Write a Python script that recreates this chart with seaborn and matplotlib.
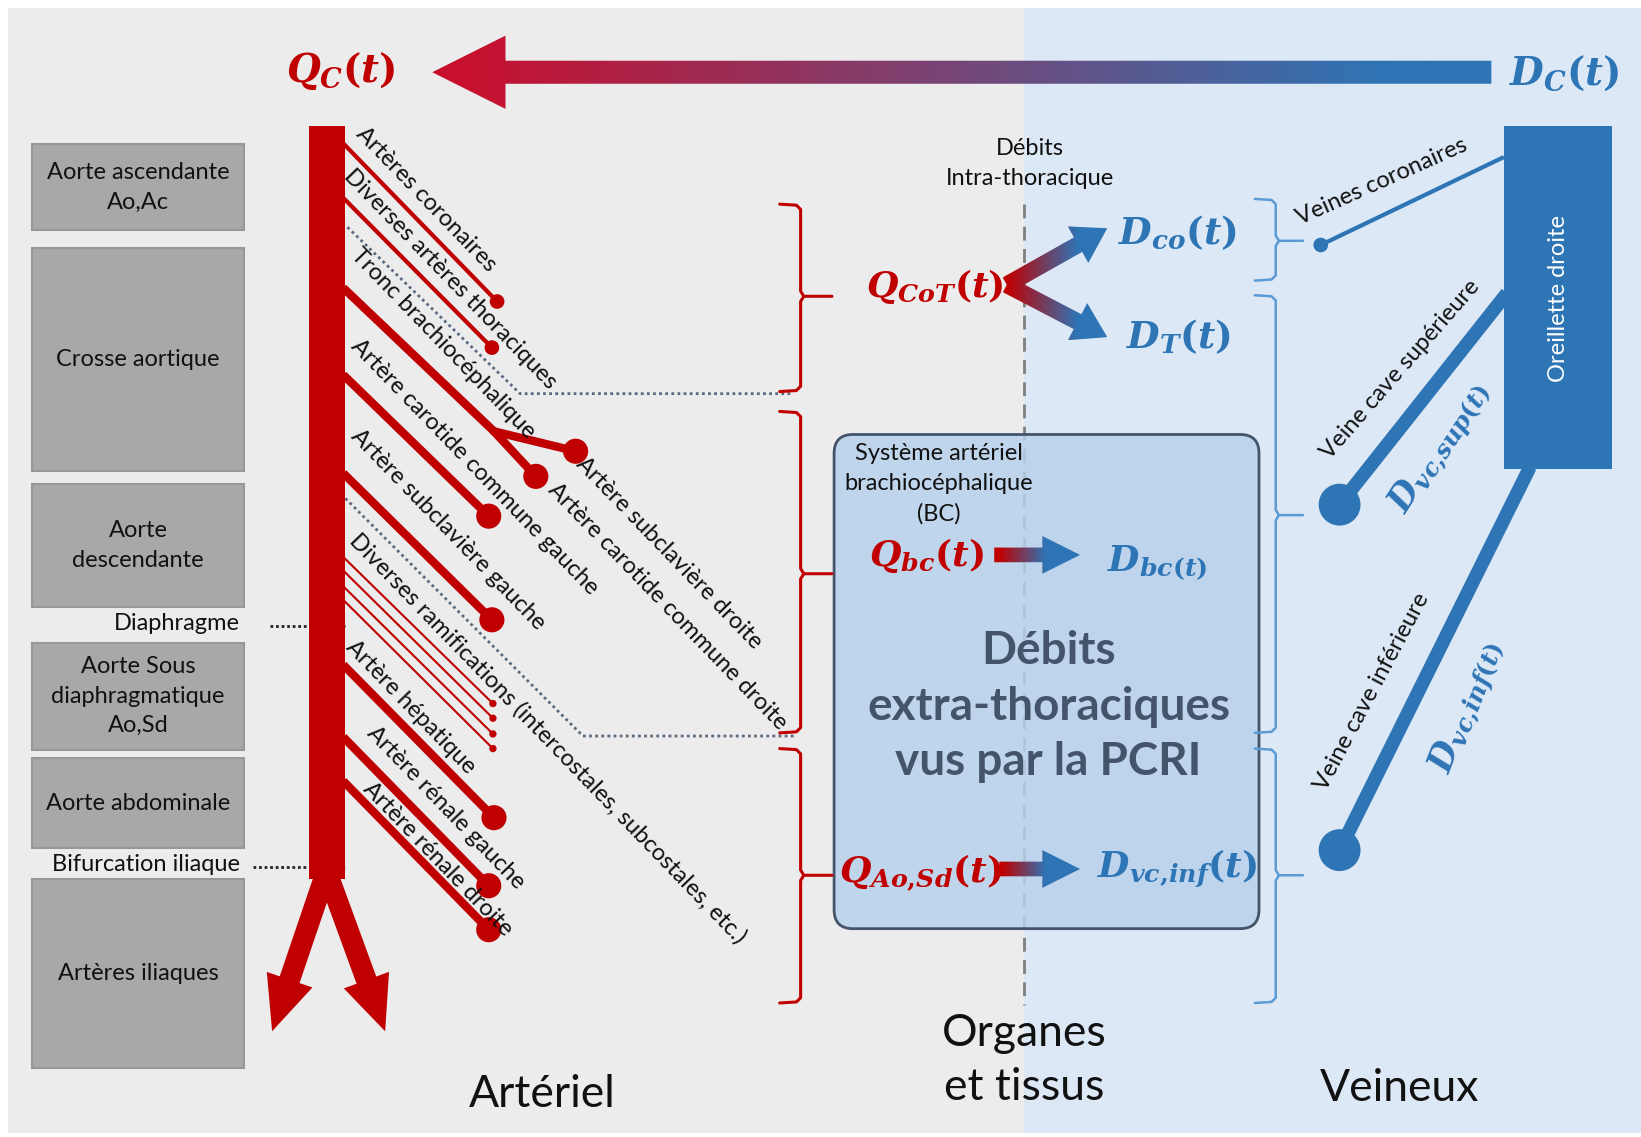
import numpy as np
import matplotlib
matplotlib.use('Agg')
import matplotlib.pyplot as plt
import seaborn as sns
from matplotlib.patches import Rectangle, Polygon, FancyBboxPatch, Circle
from matplotlib.colors import LinearSegmentedColormap

sns.set_theme(style='white')
plt.rcParams['font.family'] = ['Lato', 'DejaVu Sans']
plt.rcParams['mathtext.fontset'] = 'custom'
plt.rcParams['mathtext.rm'] = 'DejaVu Serif:bold'
plt.rcParams['mathtext.it'] = 'DejaVu Serif:italic:bold'
plt.rcParams['mathtext.bf'] = 'DejaVu Serif:bold'

RED = '#c00000'
BLUE = '#2e75b6'
LBLUE = '#5b9bd5'
SLATE = '#44546a'

# --- data -------------------------------------------------------------
# aortic segments (left boxes)
segments = ['Aorte ascendante\nAo,Ac', 'Crosse aortique', 'Aorte\ndescendante',
            'Aorte Sous\ndiaphragmatique\nAo,Sd', 'Aorte abdominale', 'Artères iliaques']
segment_top = [138, 237, 462, 614, 724, 840]
segment_bottom = [220, 450, 580, 716, 810, 1020]
landmarks = ['Diaphragme', 'Bifurcation iliaque']
landmark_y = [598, 828]

# arterial branches leaving the aorta
branches = ['Artères coronaires', 'Diverses artères thoraciques', 'Tronc brachiocéphalique',
            'Artère carotide commune gauche', 'Artère subclavière gauche',
            'Artère hépatique', 'Artère rénale gauche', 'Artère rénale droite']
branch_y0 = [137, 189, 275, 358, 452, 635, 704, 746]
branch_x1 = [475, 470, 472, 467, 470, 472, 467, 467]
branch_y1 = [288, 332, 412, 493, 592, 781, 846, 888]
branch_lw = [4, 4, 8, 8, 8, 8, 8, 8]
branch_dot = [7, 7, 0, 12, 12, 12, 12, 12]
branch_lab_x = [351, 339, 346, 346, 346, 341, 361, 358]
branch_lab_y = [118, 158, 233, 320, 406, 608, 690, 743]

# brachiocephalic trunk sub-branches
sub_branches = ['Artère subclavière droite', 'Artère carotide commune droite']
sub_x1 = [550, 512]
sub_y1 = [431, 455]
sub_lab_x = [561, 534]
sub_lab_y = [433, 458]

# small intercostal branches
ramif_label = 'Diverses ramifications (intercostales, subcostales, etc.)'
ramif_y0 = [532, 545, 560, 573]
ramif_y1 = [672, 686, 701, 715]

# dotted separators (thoracic / extra-thoracic)
sep1_x = [332, 497, 757]
sep1_y = [217, 376, 376]
sep2_x = [330, 557, 760]
sep2_y = [476, 703, 703]

# brackets: top, middle, bottom
red_br = [(195, 283, 374), (393, 548, 700), (715, 836, 958)]
blue_br = [(190, 230, 268), (282, 492, 700), (715, 836, 958)]

# venous side
veins = ['Veines coronaires', 'Veine cave supérieure', 'Veine cave inférieure']
vein_x0 = [1437, 1440, 1462]
vein_y0 = [150, 280, 446]
vein_x1 = [1262, 1280, 1280]
vein_y1 = [234, 482, 812]
vein_lw = [4, 13, 13]
vein_dot = [7, 20, 20]
vein_rot = [24, 49, 62]
vein_lab_x = [1244, 1274, 1270]
vein_lab_y = [218, 442, 758]

# --- figure -----------------------------------------------------------
W, H = 1568, 1086
fig = plt.figure(figsize=(16.41, 11.37), dpi=100)
ax = fig.add_axes([0, 0, 1, 1])
fig.patch.set_facecolor('white')

PX = 0.7535  # display px -> points
TXT = '#111111'


def arrow_verts(p0, p1, w, hw, hl):
    p0, p1 = np.array(p0, float), np.array(p1, float)
    d = p1 - p0
    u = d / np.hypot(*d)
    n = np.array([-u[1], u[0]])
    b = p1 - u * hl
    return [p0 + n * w, b + n * w, b + n * hw, p1, b - n * hw, b - n * w, p0 - n * w]


def grad_arrow(verts, c_from, c_to, x_from, x_to, z=5):
    poly = Polygon(verts, closed=True, fc='none', ec='none', zorder=z)
    ax.add_patch(poly)
    xs = np.array(verts)[:, 0]
    ys = np.array(verts)[:, 1]
    xx = np.linspace(xs.min(), xs.max(), 400)
    t = np.clip((xx - x_from) / (x_to - x_from), 0, 1)
    cmap = LinearSegmentedColormap.from_list('g', [c_from, c_to])
    im = ax.imshow(t[None, :], cmap=cmap, vmin=0, vmax=1, aspect='auto',
                   extent=(xs.min(), xs.max(), ys.max(), ys.min()),
                   interpolation='bilinear', zorder=z)
    im.set_clip_path(poly)


# backgrounds
ax.add_patch(Rectangle((8, 8), 970, 1074, fc='#ececec', ec='none', zorder=0))
ax.add_patch(Rectangle((978, 8), 590, 1074, fc='#dce8f5', ec='none', zorder=0))

# left segment boxes
for name, t, b in zip(segments, segment_top, segment_bottom):
    ax.add_patch(Rectangle((31, t), 202, b - t, fc='#aaa7a7', ec='#999696', lw=1.5, zorder=2))
    ax.text(132, (t + b) / 2, name, ha='center', va='center', fontsize=17,
            color=TXT, linespacing=1.5, zorder=3)
for name, y in zip(landmarks, landmark_y):
    ax.text(229, y - 2, name, ha='right', va='center', fontsize=17, color=TXT, zorder=3)
    ax.plot([242 if 'Bif' in name else 258, 330], [y, y], color='#222222', lw=2, ls=(0, (1, 1)), zorder=3)

# aorta trunk and iliac arrows
ax.add_patch(Rectangle((295, 120), 35, 720, fc=RED, ec='none', zorder=4))
for tip in [(260, 985), (368, 985)]:
    ax.add_patch(Polygon(arrow_verts((312, 832), tip, 10, 23, 52), closed=True, fc=RED, ec='none', zorder=4))

# branches
for name, y0, x1, y1, lw, r, lx, ly in zip(branches, branch_y0, branch_x1, branch_y1,
                                             branch_lw, branch_dot, branch_lab_x, branch_lab_y):
    ax.plot([328, x1], [y0, y1], color=RED, lw=lw * PX, solid_capstyle='butt', zorder=4)
    if r:
        ax.add_patch(Circle((x1, y1), r, fc=RED, ec='none', zorder=4))
    ax.text(lx, ly, name, rotation=-46, rotation_mode='anchor', ha='left', va='top',
            fontsize=17, color=TXT, zorder=6)

trunk_end = (branch_x1[2], branch_y1[2])
for name, x1, y1, lx, ly in zip(sub_branches, sub_x1, sub_y1, sub_lab_x, sub_lab_y):
    ax.plot([trunk_end[0], x1], [trunk_end[1], y1], color=RED, lw=8 * PX, solid_capstyle='round', zorder=4)
    ax.add_patch(Circle((x1, y1), 12, fc=RED, ec='none', zorder=4))
    ax.text(lx, ly, name, rotation=-46, rotation_mode='anchor', ha='left', va='top',
            fontsize=17, color=TXT, zorder=6)

for y0, y1 in zip(ramif_y0, ramif_y1):
    ax.plot([328, 471], [y0, y1], color=RED, lw=2 * PX, zorder=4)
    ax.add_patch(Circle((471, y1), 3.5, fc=RED, ec='none', zorder=4))
ax.text(345, 506, ramif_label, rotation=-46, rotation_mode='anchor', ha='left', va='top',
        fontsize=17, color=TXT, zorder=6)

for xs, ys in [(sep1_x, sep1_y), (sep2_x, sep2_y)]:
    ax.plot(xs, ys, color='#5a6a80', lw=2, ls=(0, (1, 1.2)), zorder=3)


# brackets
def bracket(x, top, mid, bot, color, tick, lw):
    s = 1 if tick > x else -1
    ax.plot([x - 20 * s, x - 4 * s, x, x, x + 3 * s, tick],
            [top, top + 1, top + 5, mid - 5, mid, mid], color=color, lw=lw, zorder=3)
    ax.plot([x + 3 * s, x, x, x - 4 * s, x - 20 * s],
            [mid, mid + 5, bot - 5, bot - 1, bot], color=color, lw=lw, zorder=3)


for t, m, b in red_br:
    bracket(765, t, m, b, RED, 795, 2.2)
for t, m, b in blue_br:
    bracket(1219, t, m, b, LBLUE, 1245, 1.8)

# centre dashed line and header
ax.plot([978, 978], [195, 960], color='#7f7f7f', lw=2, ls=(0, (5, 3)), zorder=1)
ax.text(984, 156, 'Débits\nIntra-thoracique', ha='center', va='center', fontsize=17,
        color=TXT, linespacing=1.5, zorder=3)

# extra-thoracic box
ax.add_patch(FancyBboxPatch((797, 415), 406, 472, boxstyle='round,pad=0,rounding_size=18',
                            fc=(0.72, 0.82, 0.92, 0.85), ec=SLATE, lw=2, zorder=2))
ax.text(897, 462, 'Système artériel\nbrachiocéphalique\n(BC)', ha='center', va='center',
        fontsize=17, color=TXT, linespacing=1.5, zorder=3)
ax.text(1002, 675, 'Débits\nextra-thoraciques\nvus par la PCRI', ha='center', va='center',
        fontsize=33, fontweight='bold', color=SLATE, linespacing=1.4, zorder=3)

# top cardiac arrow
grad_arrow(arrow_verts((1425, 69), (413, 69), 11, 35, 70), '#c8102e', BLUE, 440, 1330, z=3)
ax.text(326, 68, r'$Q_C(t)$', ha='center', va='center', fontsize=28, color=RED, zorder=5)
ax.text(1495, 70, r'$D_C(t)$', ha='center', va='center', fontsize=28, color=BLUE, zorder=5)

# intra-thoracic split
ax.text(893, 274, r'$Q_{CoT}(t)$', ha='center', va='center', fontsize=26, color=RED, zorder=5)
grad_arrow(arrow_verts((962, 272), (1058, 218), 8, 20, 32), RED, BLUE, 962, 1030, z=4)
grad_arrow(arrow_verts((962, 272), (1058, 322), 8, 20, 32), RED, BLUE, 962, 1030, z=4)
ax.text(1125, 222, r'$D_{co}(t)$', ha='center', va='center', fontsize=27, color=BLUE, zorder=5)
ax.text(1126, 322, r'$D_T(t)$', ha='center', va='center', fontsize=27, color=BLUE, zorder=5)

# flows in the box
ax.text(885, 531, r'$Q_{bc}(t)$', ha='center', va='center', fontsize=26, color=RED, zorder=5)
grad_arrow(arrow_verts((950, 530), (1032, 530), 7, 18, 36), RED, BLUE, 955, 1000, z=4)
ax.text(1106, 537, r'$D_{bc(t)}$', ha='center', va='center', fontsize=26, color=BLUE, zorder=5)
ax.text(880, 833, r'$Q_{Ao{,}Sd}(t)$', ha='center', va='center', fontsize=26, color=RED, zorder=5)
grad_arrow(arrow_verts((955, 830), (1032, 830), 7, 18, 36), RED, BLUE, 958, 1000, z=4)
ax.text(1125, 830, r'$D_{vc{,}inf}(t)$', ha='center', va='center', fontsize=26, color=BLUE, zorder=5)

# right atrium and veins
ax.add_patch(Rectangle((1437, 120), 103, 328, fc=BLUE, ec='none', zorder=4))
ax.text(1489, 285, 'Oreillette droite', rotation=90, ha='center', va='center', fontsize=17,
        color='white', zorder=5)
for name, x0, y0, x1, y1, lw, r, rot, lx, ly in zip(veins, vein_x0, vein_y0, vein_x1, vein_y1,
                                                    vein_lw, vein_dot, vein_rot, vein_lab_x, vein_lab_y):
    ax.plot([x0, x1], [y0, y1], color=BLUE, lw=lw * PX, solid_capstyle='butt', zorder=3)
    ax.add_patch(Circle((x1, y1), r, fc=BLUE, ec='none', zorder=3))
    ax.text(lx, ly, name, rotation=rot, rotation_mode='anchor', ha='left', va='bottom',
            fontsize=17, color=TXT, zorder=5)
ax.text(1376, 428, r'$D_{vc{,}sup(t)}$', rotation=57, ha='center', va='center', fontsize=25,
        color=BLUE, zorder=5)
ax.text(1402, 676, r'$D_{vc{,}inf(t)}$', rotation=69, ha='center', va='center', fontsize=25,
        color=BLUE, zorder=5)

# column titles
ax.text(518, 1045, 'Artériel', ha='center', va='center', fontsize=32, color=TXT)
ax.text(979, 1013, 'Organes\net tissus', ha='center', va='center', fontsize=32,
        color=TXT, linespacing=1.4)
ax.text(1337, 1040, 'Veineux', ha='center', va='center', fontsize=32, color=TXT)

ax.set_xlim(0, W)
ax.set_ylim(H, 0)
ax.axis('off')
fig.savefig('out.png', dpi=100, facecolor='white')
